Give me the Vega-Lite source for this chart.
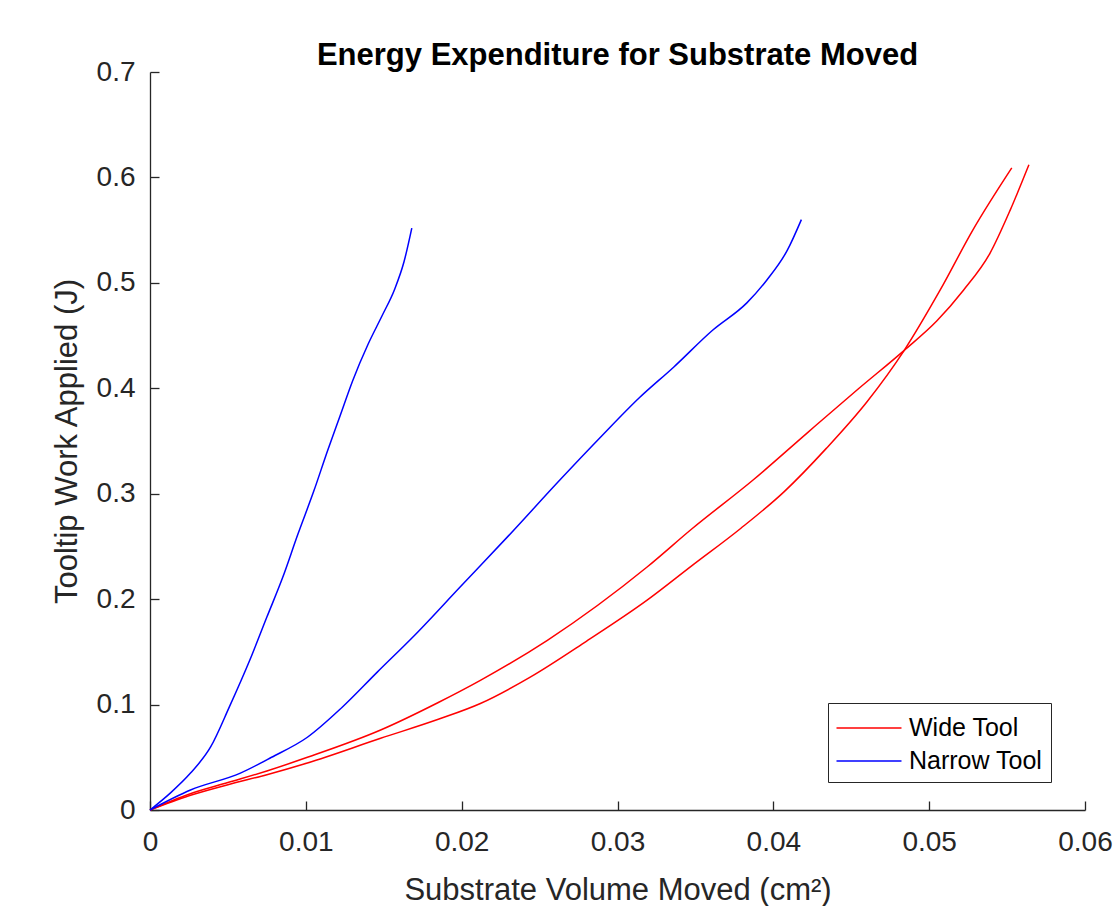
{
  "$schema": "https://vega.github.io/schema/vega-lite/v6.json",
  "autosize": "none",
  "width": 935,
  "height": 738,
  "padding": {"left": 150, "top": 72, "right": 30, "bottom": 96},
  "background": "white",
  "title": {
    "text": "Energy Expenditure for Substrate Moved",
    "font": "Liberation Sans",
    "fontSize": 31,
    "fontWeight": "bold",
    "color": "#000000",
    "anchor": "middle",
    "frame": "group",
    "baseline": "alphabetic",
    "offset": 10,
    "dy": 48
  },
  "data": {
    "values": [
      {"tool": "Wide Tool", "run": "W1", "x": 0, "y": 0},
      {"tool": "Wide Tool", "run": "W1", "x": 0.0025, "y": 0.0135},
      {"tool": "Wide Tool", "run": "W1", "x": 0.005, "y": 0.024},
      {"tool": "Wide Tool", "run": "W1", "x": 0.0075, "y": 0.0335},
      {"tool": "Wide Tool", "run": "W1", "x": 0.0101, "y": 0.0446},
      {"tool": "Wide Tool", "run": "W1", "x": 0.0148, "y": 0.068},
      {"tool": "Wide Tool", "run": "W1", "x": 0.0185, "y": 0.086},
      {"tool": "Wide Tool", "run": "W1", "x": 0.0212, "y": 0.101},
      {"tool": "Wide Tool", "run": "W1", "x": 0.0244, "y": 0.126},
      {"tool": "Wide Tool", "run": "W1", "x": 0.028, "y": 0.16},
      {"tool": "Wide Tool", "run": "W1", "x": 0.0319, "y": 0.199},
      {"tool": "Wide Tool", "run": "W1", "x": 0.0348, "y": 0.232},
      {"tool": "Wide Tool", "run": "W1", "x": 0.0379, "y": 0.267},
      {"tool": "Wide Tool", "run": "W1", "x": 0.0407, "y": 0.302},
      {"tool": "Wide Tool", "run": "W1", "x": 0.0434, "y": 0.343},
      {"tool": "Wide Tool", "run": "W1", "x": 0.046, "y": 0.387},
      {"tool": "Wide Tool", "run": "W1", "x": 0.0484, "y": 0.436},
      {"tool": "Wide Tool", "run": "W1", "x": 0.0507, "y": 0.493},
      {"tool": "Wide Tool", "run": "W1", "x": 0.0528, "y": 0.55},
      {"tool": "Wide Tool", "run": "W1", "x": 0.0553, "y": 0.609},

      {"tool": "Wide Tool", "run": "W2", "x": 0, "y": 0},
      {"tool": "Wide Tool", "run": "W2", "x": 0.0025, "y": 0.015},
      {"tool": "Wide Tool", "run": "W2", "x": 0.005, "y": 0.026},
      {"tool": "Wide Tool", "run": "W2", "x": 0.0075, "y": 0.037},
      {"tool": "Wide Tool", "run": "W2", "x": 0.0101, "y": 0.05},
      {"tool": "Wide Tool", "run": "W2", "x": 0.0148, "y": 0.0759},
      {"tool": "Wide Tool", "run": "W2", "x": 0.0185, "y": 0.102},
      {"tool": "Wide Tool", "run": "W2", "x": 0.0212, "y": 0.123},
      {"tool": "Wide Tool", "run": "W2", "x": 0.0255, "y": 0.161},
      {"tool": "Wide Tool", "run": "W2", "x": 0.0319, "y": 0.2305},
      {"tool": "Wide Tool", "run": "W2", "x": 0.0348, "y": 0.267},
      {"tool": "Wide Tool", "run": "W2", "x": 0.0387, "y": 0.313},
      {"tool": "Wide Tool", "run": "W2", "x": 0.0422, "y": 0.358},
      {"tool": "Wide Tool", "run": "W2", "x": 0.0455, "y": 0.4},
      {"tool": "Wide Tool", "run": "W2", "x": 0.0484, "y": 0.436},
      {"tool": "Wide Tool", "run": "W2", "x": 0.0505, "y": 0.464},
      {"tool": "Wide Tool", "run": "W2", "x": 0.0522, "y": 0.493},
      {"tool": "Wide Tool", "run": "W2", "x": 0.0539, "y": 0.528},
      {"tool": "Wide Tool", "run": "W2", "x": 0.0552, "y": 0.569},
      {"tool": "Wide Tool", "run": "W2", "x": 0.0564, "y": 0.612},

      {"tool": "Narrow Tool", "run": "N1", "x": 0, "y": 0},
      {"tool": "Narrow Tool", "run": "N1", "x": 0.0013, "y": 0.016},
      {"tool": "Narrow Tool", "run": "N1", "x": 0.0026, "y": 0.035},
      {"tool": "Narrow Tool", "run": "N1", "x": 0.0039, "y": 0.06},
      {"tool": "Narrow Tool", "run": "N1", "x": 0.0051, "y": 0.098},
      {"tool": "Narrow Tool", "run": "N1", "x": 0.0064, "y": 0.142},
      {"tool": "Narrow Tool", "run": "N1", "x": 0.0075, "y": 0.183},
      {"tool": "Narrow Tool", "run": "N1", "x": 0.0085, "y": 0.22},
      {"tool": "Narrow Tool", "run": "N1", "x": 0.0095, "y": 0.262},
      {"tool": "Narrow Tool", "run": "N1", "x": 0.0105, "y": 0.302},
      {"tool": "Narrow Tool", "run": "N1", "x": 0.0114, "y": 0.341},
      {"tool": "Narrow Tool", "run": "N1", "x": 0.0122, "y": 0.374},
      {"tool": "Narrow Tool", "run": "N1", "x": 0.013, "y": 0.407},
      {"tool": "Narrow Tool", "run": "N1", "x": 0.014, "y": 0.442},
      {"tool": "Narrow Tool", "run": "N1", "x": 0.0149, "y": 0.469},
      {"tool": "Narrow Tool", "run": "N1", "x": 0.0157, "y": 0.494},
      {"tool": "Narrow Tool", "run": "N1", "x": 0.0163, "y": 0.52},
      {"tool": "Narrow Tool", "run": "N1", "x": 0.0168, "y": 0.552},

      {"tool": "Narrow Tool", "run": "N2", "x": 0, "y": 0},
      {"tool": "Narrow Tool", "run": "N2", "x": 0.0026, "y": 0.019},
      {"tool": "Narrow Tool", "run": "N2", "x": 0.0058, "y": 0.035},
      {"tool": "Narrow Tool", "run": "N2", "x": 0.0078, "y": 0.05},
      {"tool": "Narrow Tool", "run": "N2", "x": 0.0101, "y": 0.069},
      {"tool": "Narrow Tool", "run": "N2", "x": 0.0123, "y": 0.097},
      {"tool": "Narrow Tool", "run": "N2", "x": 0.0146, "y": 0.131},
      {"tool": "Narrow Tool", "run": "N2", "x": 0.017, "y": 0.166},
      {"tool": "Narrow Tool", "run": "N2", "x": 0.0199, "y": 0.2115},
      {"tool": "Narrow Tool", "run": "N2", "x": 0.023, "y": 0.26},
      {"tool": "Narrow Tool", "run": "N2", "x": 0.0263, "y": 0.313},
      {"tool": "Narrow Tool", "run": "N2", "x": 0.029, "y": 0.355},
      {"tool": "Narrow Tool", "run": "N2", "x": 0.0314, "y": 0.391},
      {"tool": "Narrow Tool", "run": "N2", "x": 0.0336, "y": 0.42},
      {"tool": "Narrow Tool", "run": "N2", "x": 0.0361, "y": 0.455},
      {"tool": "Narrow Tool", "run": "N2", "x": 0.0383, "y": 0.481},
      {"tool": "Narrow Tool", "run": "N2", "x": 0.0396, "y": 0.503},
      {"tool": "Narrow Tool", "run": "N2", "x": 0.0409, "y": 0.531},
      {"tool": "Narrow Tool", "run": "N2", "x": 0.0418, "y": 0.56}
    ]
  },
  "mark": {"type": "line", "strokeWidth": 1.5, "interpolate": "monotone"},
  "encoding": {
    "x": {
      "field": "x",
      "type": "quantitative",
      "scale": {"domain": [0, 0.06], "nice": false, "zero": false},
      "axis": {
        "title": "Substrate Volume Moved (cm²)",
        "values": [0, 0.01, 0.02, 0.03, 0.04, 0.05, 0.06],
        "format": "~g",
        "labelFlush": false,
        "labelPadding": 27,
        "titleY": 89,
        "titleBaseline": "alphabetic"
      }
    },
    "y": {
      "field": "y",
      "type": "quantitative",
      "scale": {"domain": [0, 0.7], "nice": false, "zero": false},
      "axis": {
        "title": "Tooltip Work Applied (J)",
        "values": [0, 0.1, 0.2, 0.3, 0.4, 0.5, 0.6, 0.7],
        "format": "~g",
        "labelFlush": false,
        "labelPadding": 24,
        "titleX": -74,
        "titleBaseline": "alphabetic"
      }
    },
    "color": {
      "field": "tool",
      "type": "nominal",
      "scale": {"domain": ["Wide Tool", "Narrow Tool"], "range": ["#ff0000", "#0000ff"]},
      "legend": {
        "title": null,
        "orient": "none",
        "legendX": 678,
        "legendY": 631,
        "direction": "vertical",
        "symbolType": "M-2,0H2",
        "symbolSize": 1056,
        "symbolOffset": 16,
        "symbolStrokeWidth": 1.5,
        "symbolFillColor": "transparent",
        "labelFont": "Liberation Sans",
        "labelFontSize": 25,
        "labelColor": "#000000",
        "labelOffset": 23,
        "padding": 8,
        "rowPadding": 3,
        "strokeColor": "#262626",
        "fillColor": "#ffffff"
      }
    },
    "detail": {"field": "run", "type": "nominal"}
  },
  "config": {
    "view": {"stroke": null},
    "axis": {
      "grid": false,
      "domainColor": "#262626",
      "domainWidth": 1.3,
      "tickColor": "#262626",
      "tickWidth": 1.3,
      "tickSize": -9,
      "labelFont": "Liberation Sans",
      "labelFontSize": 28,
      "labelColor": "#262626",
      "titleFont": "Liberation Sans",
      "titleFontSize": 31,
      "titleFontWeight": "normal",
      "titleColor": "#262626"
    }
  }
}
